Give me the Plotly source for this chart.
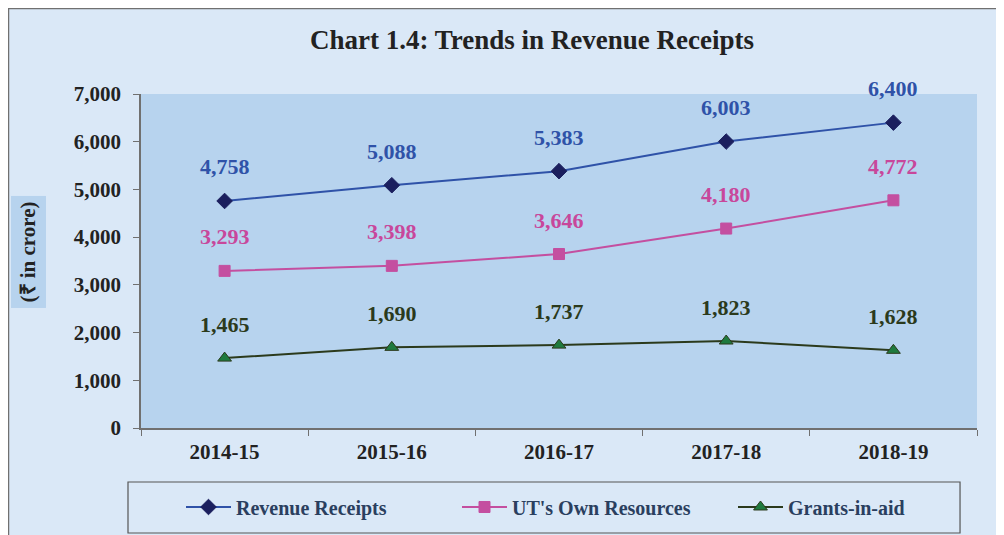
import plotly.graph_objects as go

years = ["2014-15", "2015-16", "2016-17", "2017-18", "2018-19"]
revenue_receipts = [4758, 5088, 5383, 6003, 6400]
ut_own_resources = [3293, 3398, 3646, 4180, 4772]
grants_in_aid = [1465, 1690, 1737, 1823, 1628]
y_ticks = [0, 1000, 2000, 3000, 4000, 5000, 6000, 7000]
y_tick_labels = ["0", "1,000", "2,000", "3,000", "4,000", "5,000", "6,000", "7,000"]

FONT = "Liberation Serif"
PAPER_BG = "#dae8f7"
PLOT_BG = "#b7d3ee"

series = [
    ("Revenue Receipts", revenue_receipts, "#2f52a8", "diamond", "#1b1f5e", "#1b1f5e", 12, "#2f52a8"),
    ("UT's Own Resources", ut_own_resources, "#c44fa0", "square", "#c44fa0", "#c44fa0", 11, "#c8479b"),
    ("Grants-in-aid", grants_in_aid, "#2b3a1c", "triangle-up", "#1f7a3e", "#2b3a1c", 12, "#2b3a1c"),
]

fig = go.Figure()
annotations = []
for name, vals, lcol, sym, mfill, mline, msize, tcol in series:
    fig.add_trace(go.Scatter(
        x=years, y=vals, name=f"<b>{name}</b>", mode="lines+markers",
        line=dict(color=lcol, width=2),
        marker=dict(symbol=sym, size=msize, color=mfill, line=dict(color=mline, width=1)),
    ))
    for xv, yv in zip(years, vals):
        annotations.append(dict(
            x=xv, y=yv, xref="x", yref="y", text=f"<b>{yv:,}</b>", showarrow=False,
            yshift=34, font=dict(family=FONT, size=22, color=tcol),
        ))

# y-axis title with box
annotations.append(dict(
    x=-0.1346, y=0.527, xref="paper", yref="paper", text="<b>(₹ in crore)</b>",
    xanchor="center", yanchor="middle",
    textangle=-90, showarrow=False, bgcolor=PLOT_BG,
    font=dict(family=FONT, size=21, color="#222222"), borderpad=5,
))

shapes = [
    dict(type="rect", xref="paper", yref="paper", x0=-0.1585, x1=1.06, y0=-0.4, y1=1.256,
         fillcolor=PAPER_BG, line=dict(color="#707070", width=1.5), layer="below"),
    dict(type="rect", xref="paper", yref="paper", x0=0, x1=1, y0=0, y1=1,
         fillcolor=PLOT_BG, line=dict(width=0), layer="below"),
    dict(type="rect", xref="paper", yref="paper", x0=-0.01555, x1=0.9797, y0=-0.3144, y1=-0.1617,
         fillcolor="rgba(0,0,0,0)", line=dict(color="#555555", width=1.2), layer="above"),
]

fig.update_layout(
    width=1004, height=535,
    margin=dict(l=133, r=35, t=86, b=115, autoexpand=False),
    paper_bgcolor="white",
    plot_bgcolor=PLOT_BG,
    title=dict(text="<b>Chart 1.4: Trends in Revenue Receipts</b>", x=524 / 1004, xref="container",
               xanchor="center", y=1 - 32 / 535, yref="container", yanchor="middle",
               font=dict(family=FONT, size=27, color="#222222")),
    xaxis=dict(
        type="category", range=[-0.5, 4.5], showgrid=False, showline=True,
        linecolor="#707070", linewidth=1.5, ticks="outside", tickson="boundaries",
        ticklen=6, tickcolor="#707070", ticklabelstandoff=4,
        tickvals=years, ticktext=[f"<b>{y}</b>" for y in years],
        tickfont=dict(family=FONT, size=21, color="#222222"),
    ),
    yaxis=dict(
        range=[0, 7000], tickvals=y_ticks, ticktext=[f"<b>{t}</b>" for t in y_tick_labels],
        showgrid=False, showline=True, linecolor="#707070", linewidth=1.5,
        ticks="outside", ticklen=6, tickcolor="#707070", zeroline=False,
        ticklabelstandoff=8,
        tickfont=dict(family=FONT, size=21, color="#222222"),
    ),
    showlegend=True,
    legend=dict(
        orientation="h", xref="container", x=173 / 1004, xanchor="left",
        y=-0.2365, yanchor="middle",
        bgcolor="rgba(0,0,0,0)", borderwidth=0,
        font=dict(family=FONT, size=20),
        itemwidth=45,
        entrywidth=216, entrywidthmode="pixels",
    ),
    annotations=annotations,
    shapes=shapes,
)

fig.write_html("out.html")
